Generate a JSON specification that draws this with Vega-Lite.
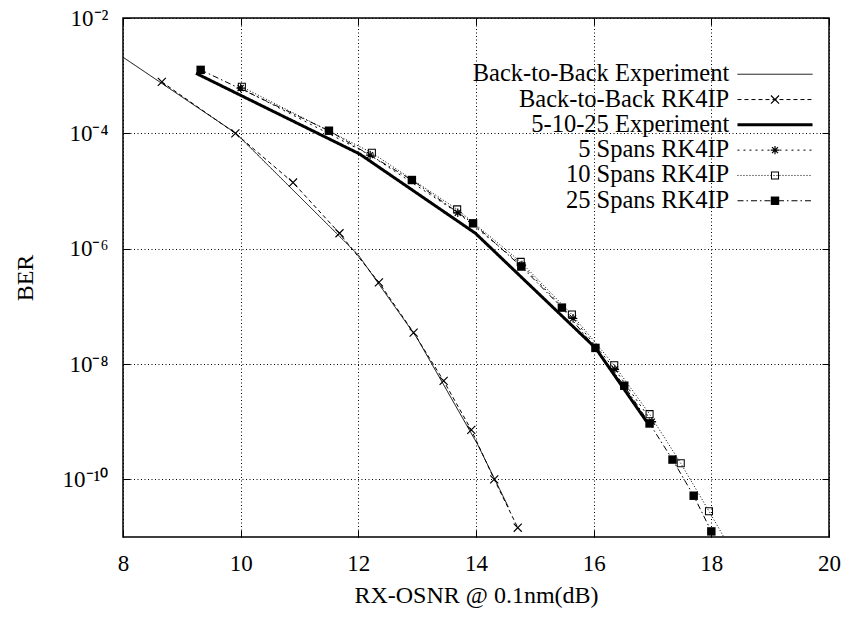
{
  "$schema": "https://vega.github.io/schema/vega-lite/v6.json",
  "width": 706,
  "height": 519,
  "autosize": {"type": "none"},
  "padding": {"left": 123, "top": 18, "right": 19, "bottom": 80},
  "background": "white",
  "config": {
    "font": "Liberation Serif",
    "view": {"stroke": "#000", "strokeWidth": 1.5}
  },
  "datasets": {
    "curves": [
      {"series": "Back-to-Back Experiment", "x": 8.0, "ber": 2.09e-3},
      {"series": "Back-to-Back Experiment", "x": 9.92, "ber": 1.0e-4},
      {"series": "Back-to-Back Experiment", "x": 12.0, "ber": 7.76e-7},
      {"series": "Back-to-Back Experiment", "x": 13.0, "ber": 2.8e-8},
      {"series": "Back-to-Back Experiment", "x": 14.03, "ber": 3.98e-10},
      {"series": "Back-to-Back Experiment", "x": 14.55, "ber": 3.31e-11},
      {"series": "Back-to-Back RK4IP", "x": 8.66, "ber": 7.8e-4},
      {"series": "Back-to-Back RK4IP", "x": 9.91, "ber": 1.0e-4},
      {"series": "Back-to-Back RK4IP", "x": 10.89, "ber": 1.4e-5},
      {"series": "Back-to-Back RK4IP", "x": 11.68, "ber": 1.85e-6},
      {"series": "Back-to-Back RK4IP", "x": 12.35, "ber": 2.6e-7},
      {"series": "Back-to-Back RK4IP", "x": 12.94, "ber": 3.5e-8},
      {"series": "Back-to-Back RK4IP", "x": 13.45, "ber": 5.1e-9},
      {"series": "Back-to-Back RK4IP", "x": 13.92, "ber": 7.2e-10},
      {"series": "Back-to-Back RK4IP", "x": 14.31, "ber": 1.0e-10},
      {"series": "Back-to-Back RK4IP", "x": 14.71, "ber": 1.45e-11},
      {"series": "5-10-25 Experiment", "x": 9.24, "ber": 1.1e-3},
      {"series": "5-10-25 Experiment", "x": 12.02, "ber": 4.4e-5},
      {"series": "5-10-25 Experiment", "x": 13.99, "ber": 1.85e-6},
      {"series": "5-10-25 Experiment", "x": 16.03, "ber": 1.9e-8},
      {"series": "5-10-25 Experiment", "x": 16.9, "ber": 1.0e-9},
      {"series": "5 Spans RK4IP", "x": 10.0, "ber": 6.1e-4},
      {"series": "5 Spans RK4IP", "x": 12.2, "ber": 4.2e-5},
      {"series": "5 Spans RK4IP", "x": 13.69, "ber": 4.2e-6},
      {"series": "5 Spans RK4IP", "x": 14.78, "ber": 5.2e-7},
      {"series": "5 Spans RK4IP", "x": 15.65, "ber": 6.2e-8},
      {"series": "5 Spans RK4IP", "x": 16.36, "ber": 8.1e-9},
      {"series": "5 Spans RK4IP", "x": 16.99, "ber": 1.0e-9},
      {"series": "10 Spans RK4IP", "x": 10.02, "ber": 6.4e-4},
      {"series": "10 Spans RK4IP", "x": 12.23, "ber": 4.6e-5},
      {"series": "10 Spans RK4IP", "x": 13.68, "ber": 4.8e-6},
      {"series": "10 Spans RK4IP", "x": 14.76, "ber": 5.9e-7},
      {"series": "10 Spans RK4IP", "x": 15.63, "ber": 7.2e-8},
      {"series": "10 Spans RK4IP", "x": 16.35, "ber": 9.5e-9},
      {"series": "10 Spans RK4IP", "x": 16.95, "ber": 1.35e-9},
      {"series": "10 Spans RK4IP", "x": 17.48, "ber": 1.9e-10},
      {"series": "10 Spans RK4IP", "x": 17.96, "ber": 2.8e-11},
      {"series": "10 Spans RK4IP", "x": 18.3, "ber": 7e-12},
      {"series": "25 Spans RK4IP", "x": 9.32, "ber": 1.26e-3},
      {"series": "25 Spans RK4IP", "x": 11.5, "ber": 1.11e-4},
      {"series": "25 Spans RK4IP", "x": 12.91, "ber": 1.55e-5},
      {"series": "25 Spans RK4IP", "x": 13.95, "ber": 2.75e-6},
      {"series": "25 Spans RK4IP", "x": 14.77, "ber": 4.9e-7},
      {"series": "25 Spans RK4IP", "x": 15.46, "ber": 9.5e-8},
      {"series": "25 Spans RK4IP", "x": 16.03, "ber": 1.9e-8},
      {"series": "25 Spans RK4IP", "x": 16.52, "ber": 4.2e-9},
      {"series": "25 Spans RK4IP", "x": 16.95, "ber": 9.3e-10},
      {"series": "25 Spans RK4IP", "x": 17.34, "ber": 2.2e-10},
      {"series": "25 Spans RK4IP", "x": 17.7, "ber": 5.2e-11},
      {"series": "25 Spans RK4IP", "x": 18.0, "ber": 1.25e-11}
    ]
  },
  "layer": [
    {
      "mark": {"type": "rect", "fill": "white", "strokeWidth": 0},
      "encoding": {
        "x": {
          "datum": 12.4,
          "type": "quantitative",
          "scale": {"domain": [8, 20], "nice": false, "zero": false},
          "axis": {
            "orient": "bottom",
            "values": [8, 10, 12, 14, 16, 18, 20],
            "title": "RX-OSNR @ 0.1nm(dB)",
            "grid": true,
            "gridColor": "#000",
            "gridDash": [1, 2.5],
            "gridWidth": 1,
            "domain": false,
            "ticks": true,
            "tickSize": -7,
            "tickColor": "#000",
            "tickWidth": 1,
            "labelFont": "Liberation Serif",
            "labelFontSize": 23,
            "labelColor": "#000",
            "labelPadding": 22,
            "labelFlush": false,
            "labelOverlap": false,
            "titleFont": "Liberation Serif",
            "titleFontSize": 24,
            "titleFontWeight": "normal",
            "titleColor": "#000",
            "titlePadding": 8
          }
        },
        "x2": {"datum": 19.97},
        "y": {
          "datum": 4.16e-6,
          "type": "quantitative",
          "scale": {"type": "log", "domain": [1e-11, 1e-2], "nice": false},
          "axis": {
            "orient": "left",
            "values": [1e-10, 1e-8, 1e-6, 1e-4, 1e-2],
            "labelExpr": "datum.value >= 0.005 ? '10⁻²' : datum.value >= 5e-5 ? '10⁻⁴' : datum.value >= 5e-7 ? '10⁻⁶' : datum.value >= 5e-9 ? '10⁻⁸' : '10⁻¹⁰'",
            "title": "BER",
            "grid": true,
            "gridColor": "#000",
            "gridDash": [1, 2.5],
            "gridWidth": 1,
            "domain": false,
            "ticks": true,
            "tickSize": -7,
            "tickColor": "#000",
            "tickWidth": 1,
            "labelFont": "Liberation Serif",
            "labelFontSize": 23,
            "labelColor": "#000",
            "labelPadding": 22,
            "labelFlush": false,
            "labelOverlap": false,
            "titleFont": "Liberation Serif",
            "titleFontSize": 24,
            "titleFontWeight": "normal",
            "titleColor": "#000",
            "titlePadding": 25
          }
        },
        "y2": {"datum": 1.73e-3}
      }
    },
    {
      "data": {"name": "curves"},
      "mark": {"type": "line", "color": "#000", "clip": true},
      "encoding": {
        "x": {
          "field": "x",
          "type": "quantitative",
          "scale": {"domain": [8, 20], "nice": false, "zero": false},
          "axis": {
            "orient": "top",
            "values": [8, 10, 12, 14, 16, 18, 20],
            "labels": false,
            "title": null,
            "grid": false,
            "domain": false,
            "ticks": true,
            "tickSize": -7,
            "tickColor": "#000",
            "tickWidth": 1,
            "zindex": 1
          }
        },
        "y": {
          "field": "ber",
          "type": "quantitative",
          "scale": {"type": "log", "domain": [1e-11, 1e-2], "nice": false},
          "axis": {
            "orient": "right",
            "values": [1e-10, 1e-8, 1e-6, 1e-4, 1e-2],
            "labels": false,
            "title": null,
            "grid": false,
            "domain": false,
            "ticks": true,
            "tickSize": -7,
            "tickColor": "#000",
            "tickWidth": 1,
            "zindex": 1
          }
        },
        "strokeDash": {
          "field": "series",
          "type": "nominal",
          "sort": ["Back-to-Back Experiment", "Back-to-Back RK4IP", "5-10-25 Experiment", "5 Spans RK4IP", "10 Spans RK4IP", "25 Spans RK4IP"],
          "scale": {"range": [[1, 0], [4, 3], [1, 0], [2, 4], [1, 2], [6, 3, 1.5, 3]]},
          "legend": {
            "orient": "none",
            "legendX": 639.75,
            "legendY": 44,
            "title": null,
            "padding": 0,
            "rowPadding": 0.3,
            "symbolType": "M-4,0H4",
            "symbolSize": 352,
            "symbolStrokeColor": "#000",
            "symbolStrokeWidth": 1,
            "labelAlign": "right",
            "labelOffset": -58,
            "labelFont": "Liberation Serif",
            "labelFontSize": 24.5,
            "labelColor": "#000",
            "labelLimit": 0,
            "encode": {
              "symbols": {
                "update": {
                  "strokeWidth": {"signal": "datum.value === '5-10-25 Experiment' ? 3 : 1"}
                }
              }
            }
          }
        },
        "strokeWidth": {
          "condition": {"test": "datum.series === '5-10-25 Experiment'", "value": 3},
          "value": 1
        }
      }
    },
    {
      "data": {"name": "curves"},
      "transform": [{"filter": "indexof(datum.series, 'RK4IP') >= 0"}],
      "mark": {"type": "point", "filled": true, "color": "#000", "fill": "#000", "strokeWidth": 0, "size": 352, "opacity": 1, "clip": true},
      "encoding": {
        "x": {"field": "x", "type": "quantitative", "scale": {"domain": [8, 20], "nice": false, "zero": false}, "axis": null},
        "y": {"field": "ber", "type": "quantitative", "scale": {"type": "log", "domain": [1e-11, 1e-2], "nice": false}, "axis": null},
        "shape": {
          "field": "series",
          "type": "nominal",
          "scale": {
            "domain": ["Back-to-Back Experiment", "Back-to-Back RK4IP", "5-10-25 Experiment", "5 Spans RK4IP", "10 Spans RK4IP", "25 Spans RK4IP"],
            "range": [
              "M0,0",
              "M-0.385,-0.475L0.475,0.385L0.385,0.475L-0.475,-0.385ZM-0.385,0.475L-0.475,0.385L0.385,-0.475L0.475,-0.385Z",
              "M0,0",
              "M-0.45,-0.064H0.45V0.064H-0.45ZM-0.064,-0.45H0.064V0.45H-0.064ZM-0.275,-0.365L0.365,0.275L0.275,0.365L-0.365,-0.275ZM-0.275,0.365L-0.365,0.275L0.275,-0.365L0.365,-0.275Z",
              "M-0.43,-0.43H0.43V0.43H-0.43ZM-0.32,-0.32V0.32H0.32V-0.32Z",
              "M-0.45,-0.45H0.45V0.45H-0.45Z"
            ]
          },
          "legend": {
            "orient": "none",
            "legendX": 639.75,
            "legendY": 44,
            "title": null,
            "padding": 0,
            "rowPadding": 0.3,
            "symbolSize": 352,
            "symbolFillColor": "#000",
            "symbolStrokeWidth": 0,
            "symbolOpacity": 1,
            "labelExpr": "''",
            "labelFont": "Liberation Serif",
            "labelFontSize": 24.5
          }
        }
      }
    }
  ],
  "resolve": {"axis": {"x": "independent", "y": "independent"}}
}
